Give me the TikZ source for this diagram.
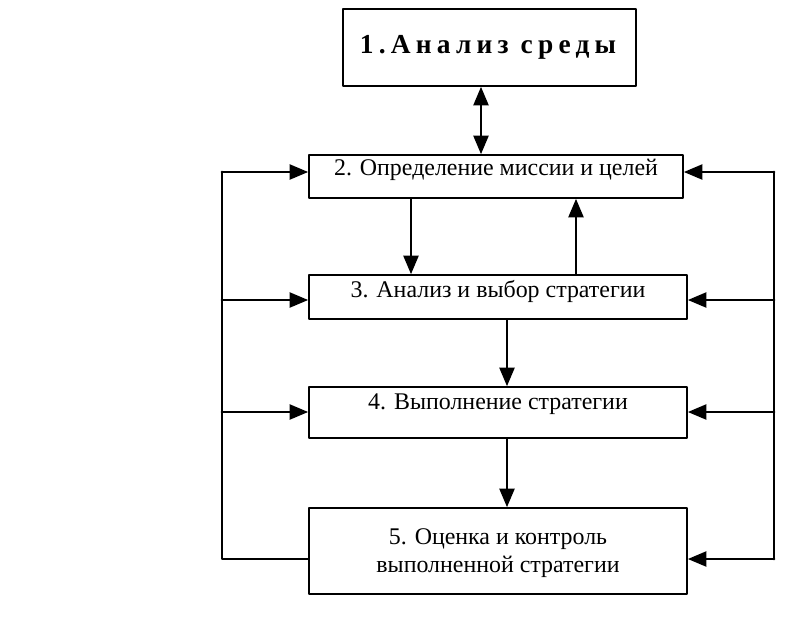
\documentclass[tikz,border=0pt]{standalone}
\usepackage{fontspec}
\setmainfont{Liberation Serif}
\newfontfamily\spacedfont[LetterSpace=19]{Liberation Serif}
\usetikzlibrary{arrows}

\begin{document}
\begin{tikzpicture}[line cap=round,line join=round,>=triangle 45,x=0.025cm,y=-0.025cm,
		box/.style={draw,line width=1.3pt,rectangle,inner sep=0pt},
		boxtext/.style={font=\fontsize{17}{20}\selectfont,inner sep=0pt},
		conn/.style={line width=2.1pt,->},
		rail/.style={line width=2.1pt}]
	\useasboundingbox (0,0) rectangle (798,627);
	% blocks
	\node[box,minimum width=7.325cm,minimum height=1.925cm] (b1) at (489.5,47.5) {};
	\node[box,minimum width=9.35cm,minimum height=1.075cm] (b2) at (496,176.5) {};
	\node[box,minimum width=9.45cm,minimum height=1.1cm] (b3) at (498,297) {};
	\node[box,minimum width=9.45cm,minimum height=1.275cm] (b4) at (498,412.5) {};
	\node[box,minimum width=9.45cm,minimum height=2.15cm] (b5) at (498,551) {};
	\node[boxtext,font=\fontsize{19.5}{22}\spacedfont\bfseries] (t1) at (488,47.5) {1.Анализ среды};
	\node[boxtext] (t2) at (496,170) {2. Определение миссии и целей};
	\node[boxtext] (t3) at (498,291) {3. Анализ и выбор стратегии};
	\node[boxtext] (t4) at (498,404) {4. Выполнение стратегии};
	\node[boxtext,align=center] (t5) at (498,553) {5. Оценка и контроль\\выполненной стратегии};
	% columns and rails
	\coordinate (c1) at (481,0);
	\coordinate (c2) at (411,0);
	\coordinate (c3) at (576,0);
	\coordinate (c4) at (507,0);
	\coordinate (l1) at (222,172);
	\coordinate (l2) at (222,300);
	\coordinate (l3) at (222,412);
	\coordinate (l4) at (222,559);
	\coordinate (r1) at (774,172);
	\coordinate (r2) at (774,300);
	\coordinate (r3) at (774,412);
	\coordinate (r4) at (774,559);
	% vertical arrows
	\draw[conn,<->] (b1.south -| c1) -- (b2.north -| c1);
	\draw[conn] (b2.south -| c2) -- (b3.north -| c2);
	\draw[conn] (b3.north -| c3) -- (b2.south -| c3);
	\draw[conn] (b3.south -| c4) -- (b4.north -| c4);
	\draw[conn] (b4.south -| c4) -- (b5.north -| c4);
	% left feedback
	\draw[rail] (b5.west |- l4) -- (l4) -- (l1);
	\draw[conn] (l1) -- (b2.west |- l1);
	\draw[conn] (l2) -- (b3.west |- l2);
	\draw[conn] (l3) -- (b4.west |- l3);
	% right feedback
	\draw[rail] (r1) -- (r4);
	\draw[conn] (r1) -- (b2.east |- r1);
	\draw[conn] (r2) -- (b3.east |- r2);
	\draw[conn] (r3) -- (b4.east |- r3);
	\draw[conn] (r4) -- (b5.east |- r4);
\end{tikzpicture}
\end{document}
